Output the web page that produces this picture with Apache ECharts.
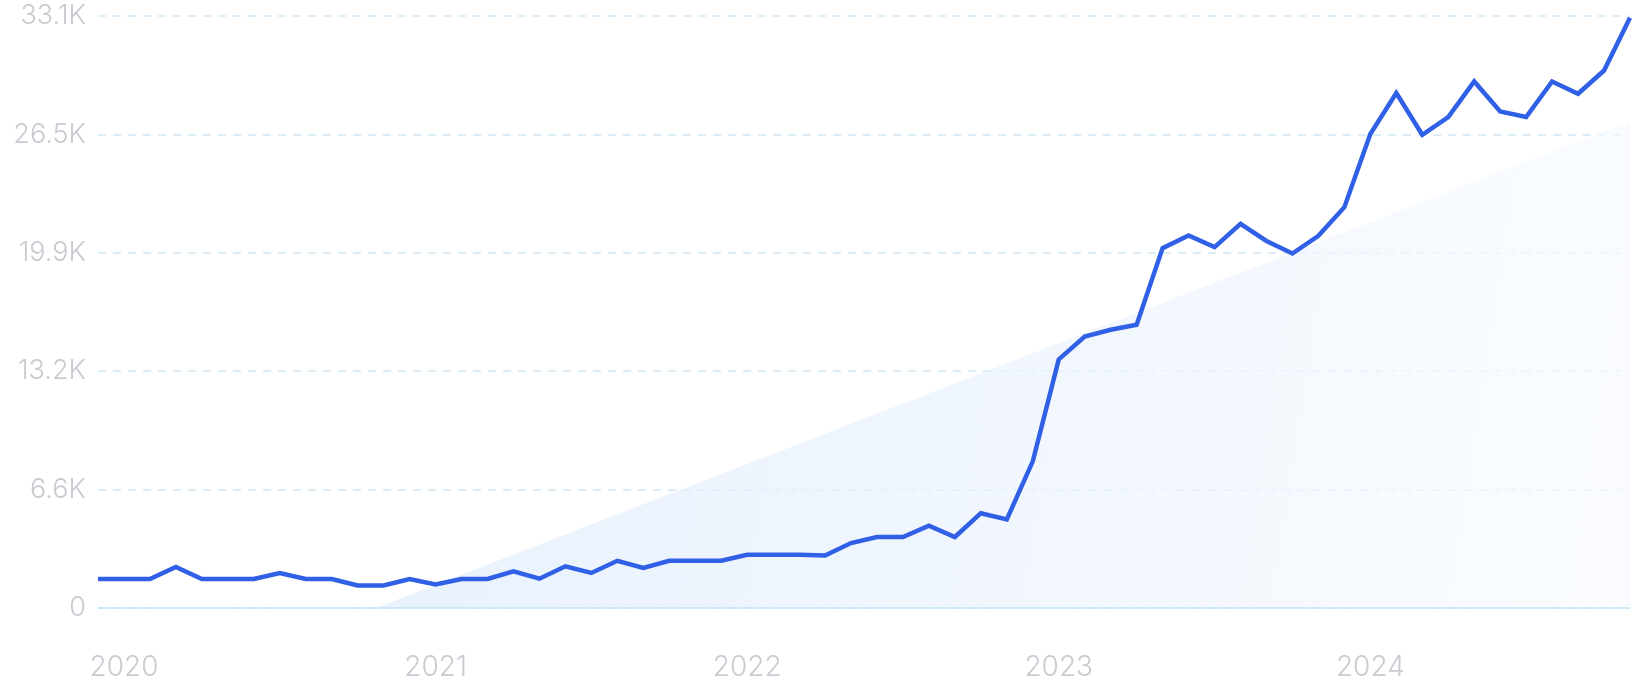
<!DOCTYPE html>
<html>
<head>
<meta charset="utf-8">
<script src="https://cdn.jsdelivr.net/npm/echarts@6/dist/echarts.min.js"></script>
<style>
  html, body { margin: 0; padding: 0; background: #ffffff; }
  #chart { width: 1636px; height: 700px; }
</style>
</head>
<body>
<div id="chart"></div>
<script>
// Months (index 0 = Dec 2019 ... index 59 = Nov 2024)
const months = [
  '2019-12','2020-01','2020-02','2020-03','2020-04','2020-05','2020-06','2020-07','2020-08','2020-09','2020-10','2020-11',
  '2020-12','2021-01','2021-02','2021-03','2021-04','2021-05','2021-06','2021-07','2021-08','2021-09','2021-10','2021-11',
  '2021-12','2022-01','2022-02','2022-03','2022-04','2022-05','2022-06','2022-07','2022-08','2022-09','2022-10','2022-11',
  '2022-12','2023-01','2023-02','2023-03','2023-04','2023-05','2023-06','2023-07','2023-08','2023-09','2023-10','2023-11',
  '2023-12','2024-01','2024-02','2024-03','2024-04','2024-05','2024-06','2024-07','2024-08','2024-09','2024-10','2024-11'
];

// Search volume (thousands)
const volume = [
  1.62, 1.62, 1.62, 2.29, 1.62, 1.62, 1.62, 1.96, 1.62, 1.62, 1.26, 1.26,
  1.62, 1.32, 1.62, 1.62, 2.05, 1.64, 2.33, 1.96, 2.64, 2.24, 2.64, 2.64,
  2.64, 2.98, 2.98, 2.98, 2.94, 3.63, 3.97, 3.97, 4.60, 3.97, 5.30, 4.95,
  8.20, 13.90, 15.18, 15.56, 15.84, 20.12, 20.83, 20.18, 21.48, 20.52, 19.82, 20.81,
  22.41, 26.50, 28.79, 26.46, 27.45, 29.44, 27.76, 27.45, 29.44, 28.75, 30.05, 33.00
];

// Trend area: start and end points [month index, thousands]
const trendStart = [10.7, 0];
const trendEnd = [59, 27.2];

// Axis ticks
const yMax = 33.1;
const yStep = 6.62;
const yearLabelIdx = [1, 13, 25, 37, 49];

const chart = echarts.init(document.getElementById('chart'), null, { renderer: 'canvas' });

const labelColor = '#c9cad2';
const fontFamily = 'Inter, "Noto Sans", sans-serif';

chart.setOption({
  animation: false,
  backgroundColor: '#ffffff',
  grid: { left: 98, right: 6, top: 16, bottom: 92, containLabel: false },
  xAxis: {
    type: 'value',
    min: 0,
    max: months.length - 1,
    axisLine: { show: false },
    axisTick: { show: false },
    splitLine: { show: false },
    axisLabel: {
      customValues: yearLabelIdx,
      formatter: v => months[Math.round(v)].slice(0, 4),
      color: labelColor,
      fontSize: 28,
      fontWeight: 300,
      fontFamily: fontFamily,
      margin: 46
    }
  },
  yAxis: {
    type: 'value',
    min: 0,
    max: yMax,
    interval: yStep,
    axisLine: { show: false },
    axisTick: { show: false },
    axisLabel: {
      formatter: v => v === 0 ? '0' : v.toFixed(1) + 'K',
      color: labelColor,
      fontSize: 27,
      fontWeight: 300,
      fontFamily: fontFamily,
      margin: 12
    },
    splitLine: {
      show: true,
      lineStyle: { color: '#d0e8f6', width: 1.5, type: [8, 7] }
    }
  },
  series: [
    {
      type: 'line',
      data: [trendStart, trendEnd],
      symbol: 'none',
      silent: true,
      z: 1,
      lineStyle: { width: 0 },
      areaStyle: {
        origin: 'start',
        color: new echarts.graphic.LinearGradient(0, 0, 1, 0.4, [
          { offset: 0, color: '#deebfb' },
          { offset: 1, color: '#f7faff' }
        ])
      }
    },
    {
      type: 'line',
      data: volume.map((v, i) => [i, v]),
      symbol: 'none',
      z: 3,
      lineStyle: { color: '#2f60e6', width: 4.5, cap: 'butt', join: 'miter' },
      markLine: {
        silent: true,
        symbol: 'none',
        label: { show: false },
        lineStyle: { color: '#c6e4f7', width: 1.5, type: 'solid' },
        data: [{ yAxis: 0 }]
      }
    }
  ]
});
</script>
</body>
</html>
